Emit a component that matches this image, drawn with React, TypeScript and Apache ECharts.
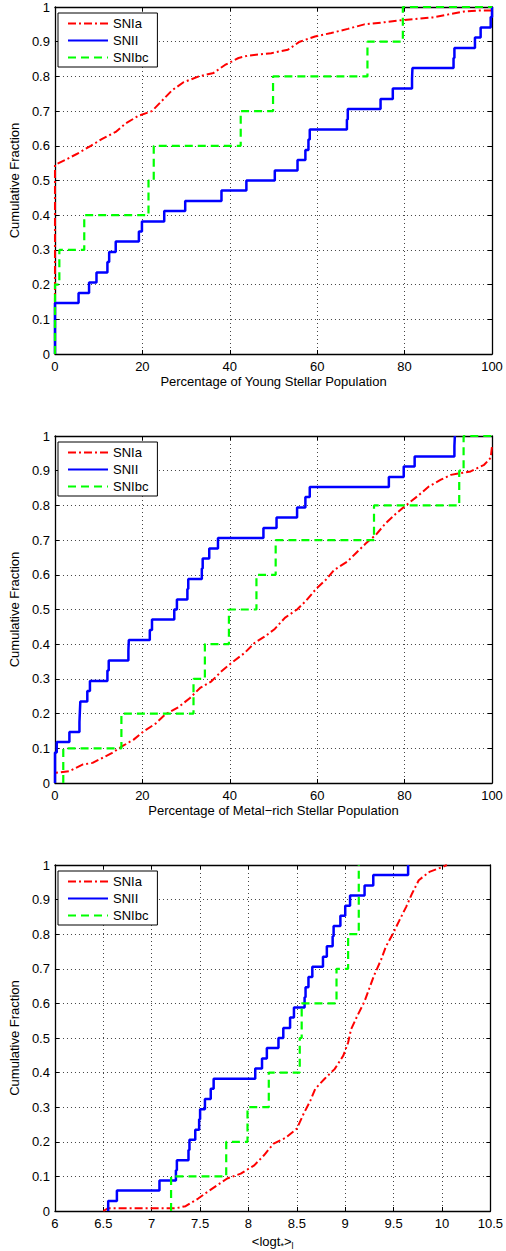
import React, { useEffect, useRef } from 'react';
import * as echarts from 'echarts';

type Pt = [number, number];

const seriesNames = ['SNIa', 'SNII', 'SNIbc'];
const yAxisTitle = 'Cumulative Fraction';
const xTitles = [
  'Percentage of Young Stellar Population',
  'Percentage of Metal\u2212rich Stellar Population',
  '<logt{s|*}>{s|l}',
];

// Panel 1: young stellar population
const youngIa: Pt[] = [
  [0, 0], [0, 0.545], [2.5, 0.56], [5.5, 0.58], [8.2, 0.6], [10.8, 0.62], [13.9, 0.64],
  [16.2, 0.665], [19.2, 0.687], [22.2, 0.7], [24.5, 0.73], [26.8, 0.76], [29.4, 0.783],
  [32.9, 0.8], [36.3, 0.81], [38.9, 0.833], [42, 0.853], [44.2, 0.86], [49.5, 0.867],
  [53.3, 0.877], [56, 0.9], [59.5, 0.915], [63.2, 0.925], [67, 0.937], [70.8, 0.95],
  [75.4, 0.956], [79.2, 0.962], [82.2, 0.965], [86.4, 0.97], [89.8, 0.978], [93.6, 0.987],
  [97.3, 0.99], [100, 0.99], [100, 1],
];
const youngII: Pt[] = [
  [0, 0], [0, 0.147], [5.4, 0.176], [7.8, 0.206], [9.5, 0.235], [12.0, 0.265], [12.4, 0.294],
  [13.9, 0.324], [19.2, 0.353], [19.9, 0.382], [25, 0.412], [29.8, 0.441], [38.1, 0.471],
  [43.8, 0.5], [50.3, 0.529], [55.5, 0.559], [57.3, 0.588], [58.0, 0.618], [58.3, 0.647],
  [66.8, 0.676], [67, 0.706], [74.5, 0.735], [77.3, 0.765], [81.7, 0.794], [81.8, 0.824],
  [91.2, 0.853], [91.4, 0.882], [96.1, 0.912], [97.4, 0.941], [99.7, 0.971], [100, 1],
];
const youngIbc: Pt[] = [
  [0, 0], [0, 0.2], [1.0, 0.3], [6.7, 0.4], [21.4, 0.5], [22.6, 0.6], [42.5, 0.7],
  [49.9, 0.8], [71.5, 0.9], [79.6, 1.0], [100, 1.0],
];

// Panel 2: metal-rich stellar population
const metalIa: Pt[] = [
  [0, 0], [0, 0.029], [3.3, 0.034], [6.3, 0.053], [8.6, 0.058], [10.8, 0.072], [13.1, 0.087],
  [15.4, 0.106], [18, 0.125], [20.3, 0.149], [23, 0.171], [25.2, 0.197], [28.3, 0.219],
  [30.9, 0.245], [33.2, 0.274], [35.8, 0.293], [38.1, 0.322], [40.4, 0.346], [43.4, 0.375],
  [45.7, 0.404], [48, 0.422], [50.3, 0.444], [52.6, 0.476], [55.4, 0.5], [57.5, 0.526],
  [59.8, 0.56], [62, 0.586], [63.9, 0.614], [66.9, 0.638], [68.9, 0.663], [71.1, 0.69],
  [73.4, 0.715], [75.7, 0.749], [78, 0.776], [80.3, 0.8], [82.9, 0.826], [85.6, 0.855],
  [88.3, 0.874], [90.6, 0.888], [95.1, 0.898], [98.2, 0.917], [99.7, 0.937], [100, 0.97],
];
const metalII: Pt[] = [
  [0, 0], [0, 0.088], [0.4, 0.118], [3.3, 0.147], [5.6, 0.176], [5.7, 0.206], [5.8, 0.235],
  [7.4, 0.265], [8.0, 0.294], [12.0, 0.324], [12.3, 0.353], [16.8, 0.382], [16.9, 0.412],
  [21.7, 0.441], [22.2, 0.471], [27.3, 0.5], [27.9, 0.529], [30.3, 0.559], [30.5, 0.588],
  [33.6, 0.618], [33.8, 0.647], [35.3, 0.676], [37.3, 0.706], [47.7, 0.735], [50.7, 0.765],
  [55.4, 0.794], [57.3, 0.824], [58.3, 0.853], [76.4, 0.882], [79.8, 0.912], [82.3, 0.941],
  [91.4, 0.971], [91.5, 1],
];
const metalIbc: Pt[] = [
  [1.9, 0], [1.9, 0.1], [15.2, 0.2], [31.7, 0.3], [34.3, 0.4], [39.8, 0.5], [46.1, 0.6],
  [50.5, 0.7], [73, 0.8], [92.5, 0.9], [93.5, 1.0], [100, 1.0],
];

// Panel 3: <logt*>_l
const ageIa: Pt[] = [
  [6.5, 0], [6.55, 0.008], [7.25, 0.008], [7.35, 0.014], [7.48, 0.036], [7.58, 0.056],
  [7.68, 0.075], [7.78, 0.094], [7.92, 0.108], [8.06, 0.132], [8.16, 0.161], [8.26, 0.195],
  [8.38, 0.211], [8.5, 0.238], [8.57, 0.281], [8.64, 0.319], [8.69, 0.353], [8.79, 0.383],
  [8.89, 0.41], [8.98, 0.449], [9.03, 0.487], [9.06, 0.525], [9.13, 0.567], [9.2, 0.606],
  [9.3, 0.682], [9.37, 0.726], [9.42, 0.764], [9.49, 0.8], [9.56, 0.84], [9.63, 0.879],
  [9.69, 0.917], [9.76, 0.956], [9.87, 0.98], [10.02, 0.996], [10.05, 1.0],
];
const ageII: Pt[] = [
  [6.55, 0], [6.55, 0.029], [6.64, 0.059], [7.08, 0.088], [7.25, 0.118], [7.26, 0.147],
  [7.38, 0.176], [7.39, 0.206], [7.45, 0.235], [7.49, 0.265], [7.5, 0.294], [7.55, 0.324],
  [7.61, 0.353], [7.64, 0.382], [8.07, 0.412], [8.14, 0.441], [8.19, 0.471], [8.31, 0.5],
  [8.36, 0.529], [8.43, 0.559], [8.47, 0.588], [8.58, 0.618], [8.59, 0.647], [8.62, 0.676],
  [8.66, 0.706], [8.77, 0.735], [8.81, 0.765], [8.87, 0.794], [8.88, 0.824], [8.95, 0.853],
  [9.0, 0.882], [9.05, 0.912], [9.2, 0.941], [9.29, 0.971], [9.65, 1.0],
];
const ageIbc: Pt[] = [
  [7.2, 0], [7.2, 0.1], [7.77, 0.2], [7.99, 0.3], [8.21, 0.4], [8.53, 0.5], [8.55, 0.6],
  [8.91, 0.7], [9.03, 0.8], [9.14, 0.9], [9.14, 1.0],
];

const xRanges: [number, number, number][] = [
  [0, 100, 20],
  [0, 100, 20],
  [6, 10.5, 0.5],
];
const panelData: Pt[][][] = [
  [youngIa, youngII, youngIbc],
  [metalIa, metalII, metalIbc],
  [ageIa, ageII, ageIbc],
];

const FONT = '"Liberation Sans", Arial, Helvetica, sans-serif';
const FS = 13;
const panelTops = [7, 436, 865];
const GRID_LEFT = 52;
const GRID_W = 440;
const GRID_H = 347;

export default function App() {
  const ref = useRef<HTMLDivElement>(null);
  useEffect(() => {
    document.body.style.margin = '0';
    if (!ref.current) return;
    const chart = echarts.init(ref.current, undefined, { renderer: 'svg' });

    const grids: any[] = [];
    const xAxes: any[] = [];
    const yAxes: any[] = [];
    const series: any[] = [];
    const legends: any[] = [];

    const axisLine = { show: true, onZero: false, lineStyle: { color: '#000', width: 1.3 } };
    const tick = { show: true, inside: true, length: 4, lineStyle: { color: '#000', width: 1 } };
    const split = { show: true, lineStyle: { type: [1, 3], color: '#444', width: 1 } };

    panelTops.forEach((top, p) => {
      const [xmin, xmax, xint] = xRanges[p];
      grids.push({ left: GRID_LEFT, top, width: GRID_W, height: GRID_H, containLabel: false });
      xAxes.push({
        type: 'value', gridIndex: p, min: xmin, max: xmax, interval: xint, position: 'bottom',
        axisLine, axisTick: tick, splitLine: split,
        axisLabel: { color: '#000', fontSize: FS, fontFamily: FONT, margin: 6, showMinLabel: true, showMaxLabel: true },
        name: xTitles[p], nameLocation: 'middle', nameGap: 21,
        nameTextStyle: {
          color: '#000', fontSize: FS, fontFamily: FONT,
          rich: { s: { fontSize: 9, fontFamily: FONT, color: '#000', padding: [9, 0, 0, 0] } },
        },
      });
      xAxes.push({
        type: 'value', gridIndex: p, min: xmin, max: xmax, interval: xint, position: 'top',
        axisLine, axisTick: tick, splitLine: { show: false }, axisLabel: { show: false },
      });
      yAxes.push({
        type: 'value', gridIndex: p, min: 0, max: 1, interval: 0.1, position: 'left',
        axisLine, axisTick: tick, splitLine: split,
        axisLabel: { color: '#000', fontSize: FS, fontFamily: FONT, margin: 5 },
        name: yAxisTitle, nameLocation: 'middle', nameGap: 26,
        nameTextStyle: { color: '#000', fontSize: FS, fontFamily: FONT },
      });
      yAxes.push({
        type: 'value', gridIndex: p, min: 0, max: 1, interval: 0.1, position: 'right',
        axisLine, axisTick: tick, splitLine: { show: false }, axisLabel: { show: false },
      });
      const [dIa, dII, dIbc] = panelData[p];
      const base = { type: 'line', xAxisIndex: 2 * p, yAxisIndex: 2 * p, symbol: 'none', showSymbol: false, clip: false, silent: true };
      series.push({
        ...base, name: seriesNames[0], data: dIa, color: '#ff0000', z: 3,
        lineStyle: { color: '#ff0000', width: 2, type: [8, 3, 2, 3] },
      });
      series.push({
        ...base, name: seriesNames[1], data: dII, step: 'end', color: '#0000ff', z: 4,
        lineStyle: { color: '#0000ff', width: 2.5, type: 'solid' },
      });
      series.push({
        ...base, name: seriesNames[2], data: dIbc, step: 'end', color: '#00ff00', z: 5,
        lineStyle: { color: '#00ff00', width: 2.2, type: [8, 5] },
      });
      legends.push({
        orient: 'vertical', left: 58, top: top + 6, data: seriesNames,
        backgroundColor: '#fff', borderColor: '#000', borderWidth: 1, borderRadius: 0,
        padding: [4, 9, 3, 9], itemWidth: 40, itemHeight: 14, itemGap: 4,
        selectedMode: false,
        itemStyle: { color: 'rgba(0,0,0,0)', borderWidth: 0, opacity: 0 },
        textStyle: { color: '#000', fontSize: FS, fontFamily: FONT },
      });
    });

    chart.setOption({
      animation: false,
      backgroundColor: '#fff',
      grid: grids,
      xAxis: xAxes,
      yAxis: yAxes,
      legend: legends,
      series,
    });
    return () => chart.dispose();
  }, []);
  return <div ref={ref} style={{ width: 506, height: 1251 }} />;
}
